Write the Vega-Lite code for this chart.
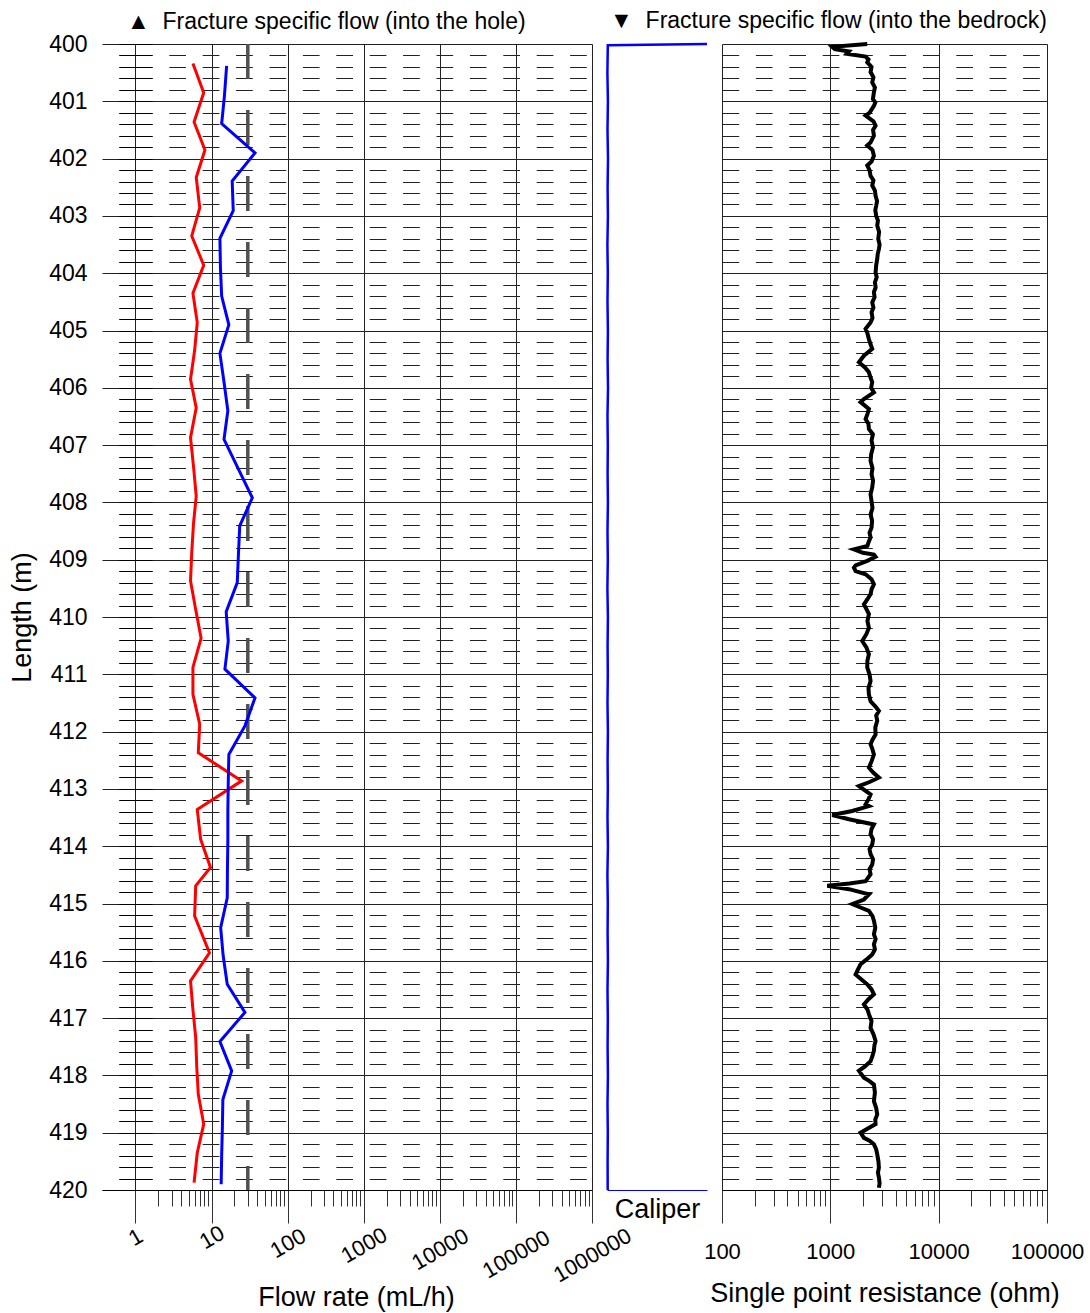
{
  "$schema": "https://vega.github.io/schema/vega-lite/v6.json",
  "padding": {"left": 8, "top": 10, "right": 5, "bottom": 5},
  "config": {
    "font": "Liberation Sans",
    "view": {"stroke": null},
    "axis": {"labelColor": "#000", "titleColor": "#000", "titleFontWeight": "normal", "labelFont": "Liberation Sans", "titleFont": "Liberation Sans"},
    "title": {"font": "Liberation Sans", "fontWeight": "normal", "color": "#000"}
  },
  "datasets": {
    "red": [
      {"d":400.34,"v":5.7},{"d":400.85,"v":7.9},{"d":401.36,"v":5.9},{"d":401.85,"v":8.2},{"d":402.33,"v":6.3},{"d":402.86,"v":7.0},{"d":403.35,"v":5.5},{"d":403.86,"v":7.9},{"d":404.35,"v":5.7},{"d":404.86,"v":6.5},{"d":405.35,"v":6.0},{"d":405.85,"v":5.3},{"d":406.35,"v":6.3},{"d":406.87,"v":5.3},{"d":407.37,"v":5.8},{"d":407.89,"v":6.3},{"d":408.37,"v":5.8},{"d":408.87,"v":5.5},{"d":409.37,"v":5.3},{"d":409.87,"v":6.2},{"d":410.37,"v":7.3},{"d":410.88,"v":5.7},{"d":411.35,"v":5.7},{"d":411.87,"v":7.0},{"d":412.37,"v":6.7},{"d":412.86,"v":24.9},{"d":413.36,"v":6.5},{"d":413.88,"v":7.2},{"d":414.37,"v":9.7},{"d":414.69,"v":6.2},{"d":415.22,"v":6.0},{"d":415.86,"v":9.4},{"d":416.35,"v":5.3},{"d":416.85,"v":5.7},{"d":417.34,"v":6.2},{"d":417.85,"v":6.4},{"d":418.33,"v":6.7},{"d":418.85,"v":7.9},{"d":419.35,"v":6.5},{"d":419.87,"v":5.9}
    ],
    "blue": [
      {"d":400.38,"v":15.8},{"d":400.9,"v":14.8},{"d":401.39,"v":13.6},{"d":401.9,"v":37.3},{"d":402.39,"v":18.7},{"d":402.91,"v":19.3},{"d":403.39,"v":12.9},{"d":403.9,"v":13.1},{"d":404.4,"v":13.6},{"d":404.9,"v":16.9},{"d":405.4,"v":12.9},{"d":405.9,"v":14.6},{"d":406.4,"v":16.4},{"d":406.9,"v":14.6},{"d":407.92,"v":34.4},{"d":408.41,"v":23.5},{"d":408.9,"v":22.6},{"d":409.4,"v":21.8},{"d":409.91,"v":15.6},{"d":410.42,"v":16.6},{"d":410.91,"v":15.0},{"d":411.41,"v":37.3},{"d":411.9,"v":27.5},{"d":412.4,"v":16.9},{"d":412.9,"v":16.6},{"d":413.39,"v":16.4},{"d":413.9,"v":16.4},{"d":414.4,"v":16.2},{"d":414.9,"v":16.1},{"d":415.42,"v":13.2},{"d":415.9,"v":14.2},{"d":416.41,"v":16.1},{"d":416.9,"v":27.5},{"d":417.41,"v":12.9},{"d":417.92,"v":18.4},{"d":418.42,"v":14.1},{"d":418.9,"v":13.9},{"d":419.4,"v":13.6},{"d":419.9,"v":13.4}
    ],
    "lim": [{"v":30,"top":400,"bot":420}],
    "cal": [
      {"d":400.0,"v":100},{"d":400.02,"v":0.8},{"d":400.5,"v":0.4},{"d":401.0,"v":0.9},{"d":401.5,"v":0.5},{"d":402.0,"v":1.0},{"d":402.5,"v":0.6},{"d":403.0,"v":0.9},{"d":403.5,"v":0.4},{"d":404.0,"v":0.8},{"d":404.5,"v":0.5},{"d":405.0,"v":0.9},{"d":405.5,"v":0.6},{"d":406.0,"v":1.0},{"d":406.5,"v":0.5},{"d":407.0,"v":0.8},{"d":407.5,"v":0.6},{"d":408.0,"v":0.9},{"d":408.5,"v":0.5},{"d":409.0,"v":0.8},{"d":409.5,"v":0.4},{"d":410.0,"v":0.9},{"d":410.5,"v":0.6},{"d":411.0,"v":0.8},{"d":411.5,"v":0.5},{"d":412.0,"v":0.9},{"d":412.5,"v":0.6},{"d":413.0,"v":0.8},{"d":413.5,"v":0.5},{"d":414.0,"v":0.9},{"d":414.5,"v":0.4},{"d":415.0,"v":0.8},{"d":415.5,"v":0.6},{"d":416.0,"v":0.9},{"d":416.5,"v":0.5},{"d":417.0,"v":0.8},{"d":417.5,"v":0.6},{"d":418.0,"v":0.9},{"d":418.5,"v":0.5},{"d":419.0,"v":0.8},{"d":419.5,"v":0.6},{"d":420.0,"v":0.7}
    ],
    "res": [
      {"d":400.00,"v":2190},{"d":400.05,"v":1042},{"d":400.09,"v":1100},{"d":400.13,"v":1485},{"d":400.17,"v":1420},{"d":400.22,"v":2115},{"d":400.27,"v":2250},{"d":400.32,"v":2191},{"d":400.40,"v":2400},{"d":400.49,"v":2352},{"d":400.58,"v":2500},{"d":400.67,"v":2436},{"d":400.76,"v":2580},{"d":400.84,"v":2525},{"d":400.96,"v":2472},{"d":401.02,"v":2600},{"d":401.08,"v":2525},{"d":401.2,"v":2300},{"d":401.25,"v":2115},{"d":401.35,"v":2500},{"d":401.425,"v":2616},{"d":401.5,"v":2480},{"d":401.6,"v":2525},{"d":401.72,"v":2350},{"d":401.77,"v":2191},{"d":401.85,"v":2450},{"d":401.95,"v":2525},{"d":402.05,"v":2400},{"d":402.12,"v":2191},{"d":402.2,"v":2300},{"d":402.3,"v":2352},{"d":402.38,"v":2500},{"d":402.47,"v":2436},{"d":402.56,"v":2580},{"d":402.65,"v":2616},{"d":402.74,"v":2700},{"d":402.82,"v":2653},{"d":402.9,"v":2600},{"d":403.0,"v":2653},{"d":403.08,"v":2750},{"d":403.17,"v":2710},{"d":403.28,"v":2820},{"d":403.40,"v":2768},{"d":403.5,"v":2850},{"d":403.58,"v":2807},{"d":403.66,"v":2740},{"d":403.75,"v":2710},{"d":403.86,"v":2650},{"d":403.99,"v":2616},{"d":404.07,"v":2680},{"d":404.16,"v":2579},{"d":404.25,"v":2620},{"d":404.33,"v":2525},{"d":404.42,"v":2560},{"d":404.51,"v":2436},{"d":404.6,"v":2500},{"d":404.68,"v":2402},{"d":404.78,"v":2450},{"d":404.86,"v":2352},{"d":404.97,"v":2115},{"d":405.05,"v":2200},{"d":405.15,"v":2270},{"d":405.24,"v":2350},{"d":405.32,"v":2436},{"d":405.44,"v":2042},{"d":405.555,"v":1836},{"d":405.65,"v":2100},{"d":405.73,"v":2270},{"d":405.82,"v":2350},{"d":405.90,"v":2436},{"d":406.0,"v":2380},{"d":406.08,"v":2525},{"d":406.196,"v":2042},{"d":406.25,"v":1902},{"d":406.37,"v":2270},{"d":406.46,"v":2200},{"d":406.545,"v":2115},{"d":406.63,"v":2250},{"d":406.72,"v":2270},
      {"d":406.81,"v":2472},{"d":406.92,"v":2400},{"d":407.04,"v":2472},{"d":407.16,"v":2380},{"d":407.28,"v":2352},{"d":407.4,"v":2450},{"d":407.51,"v":2402},{"d":407.62,"v":2480},{"d":407.74,"v":2436},{"d":407.86,"v":2350},{"d":407.98,"v":2402},{"d":408.1,"v":2450},{"d":408.21,"v":2352},{"d":408.32,"v":2430},{"d":408.44,"v":2402},{"d":408.53,"v":2300},{"d":408.61,"v":2352},{"d":408.7,"v":2250},{"d":408.76,"v":2200},{"d":408.82,"v":1651},{"d":408.88,"v":2000},{"d":408.91,"v":2525},{"d":408.95,"v":2616},{"d":409.02,"v":2191},{"d":409.10,"v":1711},{"d":409.14,"v":1651},{"d":409.20,"v":1711},{"d":409.255,"v":2115},{"d":409.34,"v":2400},{"d":409.43,"v":2525},{"d":409.52,"v":2400},{"d":409.60,"v":2352},{"d":409.69,"v":2200},{"d":409.78,"v":2042},{"d":409.86,"v":2150},{"d":409.95,"v":2270},{"d":410.07,"v":2200},{"d":410.19,"v":2270},{"d":410.3,"v":2150},{"d":410.42,"v":1970},{"d":410.53,"v":2150},{"d":410.65,"v":2270},{"d":410.76,"v":2200},{"d":410.88,"v":2191},{"d":411.0,"v":2300},{"d":411.12,"v":2352},{"d":411.24,"v":2250},{"d":411.35,"v":2270},{"d":411.47,"v":2352},{"d":411.56,"v":2600},{"d":411.64,"v":2807},{"d":411.72,"v":2650},{"d":411.81,"v":2710},{"d":411.93,"v":2600},{"d":412.05,"v":2616},{"d":412.14,"v":2450},{"d":412.22,"v":2352},{"d":412.31,"v":2450},{"d":412.40,"v":2525},{"d":412.52,"v":2400},{"d":412.63,"v":2270},{"d":412.72,"v":2500},{"d":412.80,"v":2807},{"d":412.88,"v":2300},{"d":412.95,"v":1836},{"d":413.03,"v":2100},{"d":413.095,"v":2352},{"d":413.18,"v":2250},{"d":413.27,"v":2115},
      {"d":413.30,"v":2270},{"d":413.385,"v":1594},{"d":413.455,"v":1042},{"d":413.53,"v":1485},{"d":413.62,"v":2525},{"d":413.7,"v":2400},{"d":413.79,"v":2352},{"d":413.88,"v":2480},{"d":413.97,"v":2436},{"d":414.05,"v":2300},{"d":414.14,"v":2352},{"d":414.23,"v":2480},{"d":414.32,"v":2436},{"d":414.4,"v":2300},{"d":414.49,"v":2352},{"d":414.61,"v":2115},{"d":414.65,"v":1500},{"d":414.69,"v":937},{"d":414.75,"v":1485},{"d":414.84,"v":2270},{"d":414.93,"v":2042},{"d":415.01,"v":1594},{"d":415.07,"v":1900},{"d":415.13,"v":2270},{"d":415.22,"v":2450},{"d":415.30,"v":2525},{"d":415.42,"v":2600},{"d":415.54,"v":2525},{"d":415.62,"v":2620},{"d":415.71,"v":2525},{"d":415.8,"v":2580},{"d":415.89,"v":2436},{"d":415.98,"v":2150},{"d":416.06,"v":1902},{"d":416.15,"v":1800},{"d":416.24,"v":1711},{"d":416.33,"v":1950},{"d":416.41,"v":2191},{"d":416.5,"v":2400},{"d":416.585,"v":2525},{"d":416.67,"v":2250},{"d":416.76,"v":2042},{"d":416.85,"v":2200},{"d":416.93,"v":2270},{"d":417.05,"v":2400},{"d":417.17,"v":2352},{"d":417.28,"v":2500},{"d":417.40,"v":2616},{"d":417.48,"v":2550},{"d":417.57,"v":2525},{"d":417.66,"v":2450},{"d":417.75,"v":2352},{"d":417.84,"v":2100},{"d":417.92,"v":1836},{"d":418.04,"v":2042},{"d":418.1,"v":2300},{"d":418.16,"v":2525},{"d":418.3,"v":2580},{"d":418.45,"v":2525},{"d":418.57,"v":2650},{"d":418.68,"v":2710},{"d":418.77,"v":2600},{"d":418.85,"v":2616},{"d":418.93,"v":2200},{"d":419.00,"v":1902},{"d":419.09,"v":2042},{"d":419.14,"v":2300},{"d":419.20,"v":2525},{"d":419.29,"v":2650},{"d":419.38,"v":2710},{"d":419.5,"v":2780},{"d":419.61,"v":2807},{"d":419.7,"v":2750},{"d":419.78,"v":2807},{"d":419.88,"v":2850},{"d":419.96,"v":2807}
    ]
  },
  "hconcat": [
    {
      "width": 490,
      "height": 1146,
      "title": {"text": "▲\u00a0\u00a0Fracture specific flow (into the hole)", "anchor": "start", "frame": "group", "dx": 25, "fontSize": 23, "offset": -1},
      "resolve": {"axis": {"x": "independent", "y": "independent"}},
      "layer": [
        {
          "data": {"name": "lim"},
          "mark": {"type": "rule", "color": "#505050", "strokeWidth": 3.5, "strokeDash": [35, 31]},
          "encoding": {
            "x": {"field": "v", "type": "quantitative", "scale": {"type": "log", "domain": [0.364, 1000000], "nice": false}, "axis": null},
            "y": {"field": "top", "type": "quantitative", "scale": {"domain": [400, 420], "reverse": true, "nice": false, "zero": false},
                  "axis": {"orient": "right", "offset": -456.6, "tickCount": 100, "labels": false, "domain": false, "grid": false, "tickSize": 16.7, "tickColor": "#000", "title": null}},
            "y2": {"field": "bot"}
          }
        },
        {
          "data": {"name": "red"},
          "mark": {"type": "line", "color": "#ff0000", "strokeWidth": 3},
          "encoding": {
            "x": {"field": "v", "type": "quantitative", "scale": {"type": "log", "domain": [0.364, 1000000], "nice": false},
                  "axis": {
                    "orient": "bottom",
                    "values": [1,2,3,4,5,6,7,8,9,10,20,30,40,50,60,70,80,90,100,200,300,400,500,600,700,800,900,1000,2000,3000,4000,5000,6000,7000,8000,9000,10000,20000,30000,40000,50000,60000,70000,80000,90000,100000,200000,300000,400000,500000,600000,700000,800000,900000,1000000],
                    "tickSize": {"condition": {"test": "abs(log(datum.value)/LN10 - round(log(datum.value)/LN10)) < 0.001", "value": 33}, "value": 16},
                    "tickColor": "#333",
                    "domainColor": "#000",
                    "grid": true,
                    "gridColor": "#222",
                    "gridOpacity": {"condition": {"test": "abs(log(datum.value)/LN10 - round(log(datum.value)/LN10)) < 0.001", "value": 1}, "value": 0},
                    "labelExpr": "abs(log(datum.value)/LN10 - round(log(datum.value)/LN10)) < 0.001 ? format(datum.value, 'd') : ''",
                    "labelOverlap": false,
                    "labelFlush": false,
                    "labelAngle": -30,
                    "labelAlign": "center",
                    "labelBaseline": "middle",
                    "labelFontSize": 22,
                    "labelPadding": {"condition": [
                      {"test": "datum.value < 50", "value": 14},
                      {"test": "datum.value < 500", "value": 20},
                      {"test": "datum.value < 5000", "value": 22},
                      {"test": "datum.value < 50000", "value": 26},
                      {"test": "datum.value < 500000", "value": 31}
                    ], "value": 32},
                    "title": "Flow rate (mL/h)",
                    "titleFontSize": 27,
                    "titleX": 254,
                    "titleY": 107,
                    "titleBaseline": "middle"
                  }},
            "y": {"field": "d", "type": "quantitative", "scale": {"domain": [400, 420], "reverse": true, "nice": false, "zero": false},
                  "axis": {
                    "orient": "left", "tickCount": 100, "domain": false, "ticks": false,
                    "labelExpr": "abs(datum.value - round(datum.value)) < 0.01 ? format(datum.value, 'd') : ''",
                    "labelOverlap": false, "labelFontSize": 23, "labelPadding": 15, "labelBaseline": "middle",
                    "title": "Length (m)", "titleFontSize": 27, "titlePadding": 12,
                    "grid": true, "gridColor": "#222", "gridWidth": 1,
                    "gridDash": {"condition": {"test": "abs(datum.value - round(datum.value)) < 0.01", "value": []},
                                 "value": [0, 33.4, 16.7, 16.7, 16.7, 16.7, 16.7, 16.7, 16.7, 16.7, 16.7, 16.7, 16.7, 16.7, 16.7, 16.7, 16.7, 16.7, 16.7, 16.7, 16.7, 16.7, 16.7, 16.7, 16.7, 16.7, 16.7, 16.7, 16.7, 16.7]}
                  }},
            "order": {"field": "d", "type": "quantitative"}
          }
        },
        {
          "data": {"name": "blue"},
          "mark": {"type": "line", "color": "#0000ff", "strokeWidth": 3},
          "encoding": {
            "x": {"field": "v", "type": "quantitative", "scale": {"type": "log", "domain": [0.364, 1000000], "nice": false}, "axis": null},
            "y": {"field": "d", "type": "quantitative", "scale": {"domain": [400, 420], "reverse": true, "nice": false, "zero": false},
                  "axis": {"orient": "left", "offset": -33.4, "tickCount": 100, "labels": false, "domain": false, "grid": false, "tickSize": 16.7, "tickColor": "#000", "title": null}},
            "order": {"field": "d", "type": "quantitative"}
          }
        }
      ]
    },
    {
      "width": 100,
      "height": 1146,
      "data": {"name": "cal"},
      "mark": {"type": "line", "color": "#0000ff", "strokeWidth": 2.5},
      "encoding": {
        "x": {"field": "v", "type": "quantitative", "scale": {"domain": [0, 100], "nice": false},
              "axis": {"orient": "bottom", "domainColor": "#0000ff", "domainWidth": 1, "ticks": false, "labels": false, "grid": false,
                       "title": "Caliper", "titleFontSize": 27, "titleY": 19, "titleBaseline": "middle"}},
        "y": {"field": "d", "type": "quantitative", "scale": {"domain": [400, 420], "reverse": true, "nice": false, "zero": false}, "axis": null},
        "order": {"field": "d", "type": "quantitative"}
      }
    },
    {
      "width": 325,
      "height": 1146,
      "title": {"text": "▼\u00a0\u00a0Fracture specific flow (into the bedrock)", "anchor": "end", "frame": "group", "fontSize": 23, "offset": 3},
      "data": {"name": "res"},
      "mark": {"type": "line", "color": "#000", "strokeWidth": 4},
      "encoding": {
        "x": {"field": "v", "type": "quantitative", "scale": {"type": "log", "domain": [100, 100000], "nice": false},
              "axis": {
                "orient": "bottom",
                "values": [100,200,300,400,500,600,700,800,900,1000,2000,3000,4000,5000,6000,7000,8000,9000,10000,20000,30000,40000,50000,60000,70000,80000,90000,100000],
                "tickSize": {"condition": {"test": "abs(log(datum.value)/LN10 - round(log(datum.value)/LN10)) < 0.001", "value": 33}, "value": 16},
                "tickColor": "#333",
                "domainColor": "#000",
                "grid": true,
                "gridColor": "#222",
                "gridOpacity": {"condition": {"test": "abs(log(datum.value)/LN10 - round(log(datum.value)/LN10)) < 0.001", "value": 1}, "value": 0},
                "labelExpr": "abs(log(datum.value)/LN10 - round(log(datum.value)/LN10)) < 0.001 ? format(datum.value, 'd') : ''",
                "labelOverlap": false,
                "labelFlush": false,
                "labelAngle": 0,
                "labelAlign": "center",
                "labelBaseline": "middle",
                "labelFontSize": 22,
                "labelPadding": 28,
                "title": "Single point resistance (ohm)",
                "titleFontSize": 27,
                "titleY": 103,
                "titleBaseline": "middle"
              }},
        "y": {"field": "d", "type": "quantitative", "scale": {"domain": [400, 420], "reverse": true, "nice": false, "zero": false},
              "axis": {
                "orient": "left", "tickCount": 100, "domain": false, "ticks": false, "labels": false, "title": null,
                "grid": true, "gridColor": "#222", "gridWidth": 1,
                "gridDash": {"condition": {"test": "abs(datum.value - round(datum.value)) < 0.01", "value": []}, "value": [16.7, 16.7]}
              }},
        "order": {"field": "d", "type": "quantitative"}
      }
    }
  ],
  "spacing": 15,
  "bounds": "flush"
}
